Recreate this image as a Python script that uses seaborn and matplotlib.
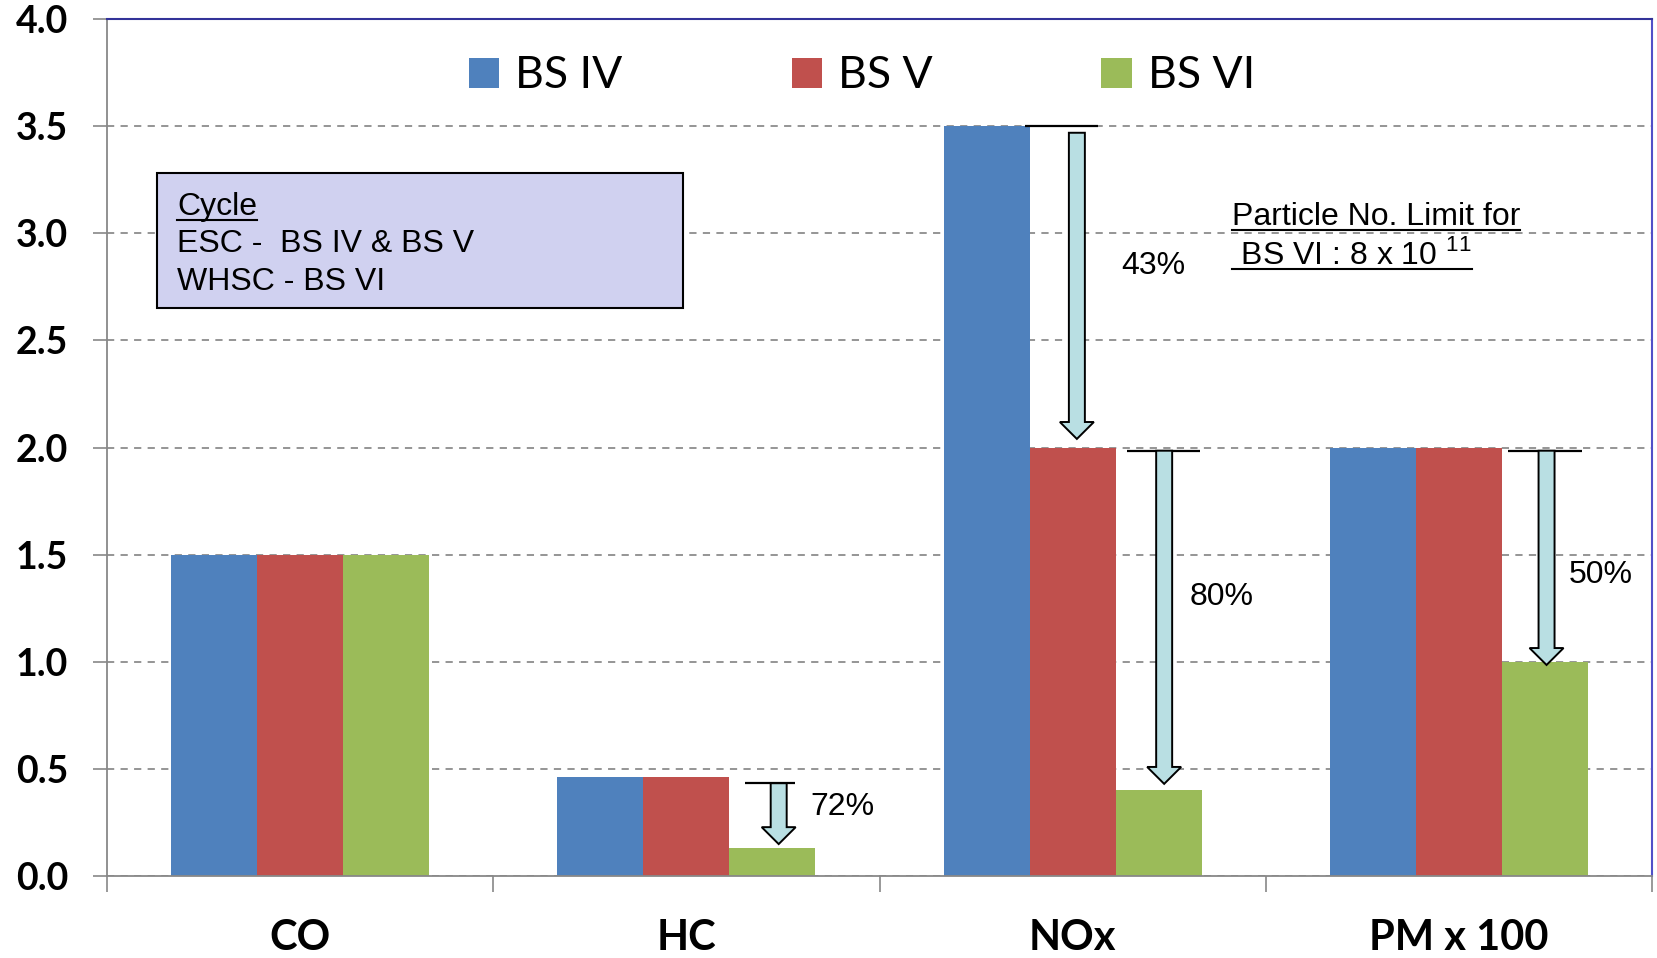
import numpy as np
import pandas as pd
import matplotlib
matplotlib.use("Agg")
import matplotlib.pyplot as plt
import seaborn as sns
from matplotlib.patches import Rectangle, FancyArrow
from matplotlib.lines import Line2D

# ---------------- data ----------------
categories = ["CO", "HC", "NOx", "PM x 100"]
norms = ["BS IV", "BS V", "BS VI"]
bs4 = [1.5, 0.46, 3.5, 2.0]
bs5 = [1.5, 0.46, 2.0, 2.0]
bs6 = [1.5, 0.13, 0.4, 1.0]
ytick_vals = [0.0, 0.5, 1.0, 1.5, 2.0, 2.5, 3.0, 3.5, 4.0]
ytick_labels = ["0.0", "0.5", "1.0", "1.5", "2.0", "2.5", "3.0", "3.5", "4.0"]
cycle_lines = ["Cycle", "ESC -  BS IV & BS V", "WHSC - BS VI"]
particle_lines = ["Particle No. Limit for", r" BS VI : 8 x 10 $^{\mathrm{11}}$"]
# reductions shown: (category index, from norm index, to norm index)
reductions = [(2, 0, 1), (2, 1, 2), (3, 1, 2), (1, 1, 2)]

colors = ["#4f81bd", "#c0504d", "#9bbb59"]

plt.rcParams["mathtext.fontset"] = "custom"
plt.rcParams["mathtext.rm"] = "Liberation Sans"

W, H = 1657, 958
fig = plt.figure(figsize=(W / 100, H / 100), dpi=100)
ax = fig.add_axes([107 / W, 1 - 876 / H, 1545 / W, 857 / H])

vals = {"BS IV": bs4, "BS V": bs5, "BS VI": bs6}
rows = []
for n in norms:
    for c, v in zip(categories, vals[n]):
        rows.append({"Pollutant": c, "Norm": n, "Value": v})
df = pd.DataFrame(rows)

sns.barplot(data=df, x="Pollutant", y="Value", hue="Norm", hue_order=norms,
            order=categories, palette=colors, width=0.668, saturation=1,
            linewidth=0, ax=ax, legend=True, errorbar=None)

ax.set_xlim(-0.5, 3.5)
ax.set_ylim(0, 4)
ax.set_xlabel("")
ax.set_ylabel("")

# grid
ax.set_axisbelow(True)
ax.yaxis.grid(True, ls=(0, (4, 3.5)), color="#8c8c8c", lw=1.3)
ax.xaxis.grid(False)

# ticks
ax.set_yticks(ytick_vals)
ax.set_yticklabels(ytick_labels, fontfamily="Lato", fontweight="bold", fontsize=27)
ax.tick_params(axis="y", direction="out", length=10, width=1.2, color="#888888", pad=18)
ax.set_xticks(range(len(categories)))
ax.set_xticklabels(categories, fontfamily="Lato", fontweight="bold", fontsize=30)
ax.tick_params(axis="x", which="major", length=0, pad=31)
ax.set_xticks(np.arange(-0.5, len(categories), 1.0), minor=True)
ax.tick_params(axis="x", which="minor", direction="out", length=11.5, width=1.2, color="#888888")

for s in ["left", "bottom"]:
    ax.spines[s].set_color("#888888")
    ax.spines[s].set_linewidth(1.3)
ax.spines["top"].set_color("#333399")
ax.spines["top"].set_linewidth(1.5)
ax.spines["right"].set_color("#5050c8")
ax.spines["right"].set_linewidth(1.5)

# legend
handles, labels = ax.get_legend_handles_labels()
if ax.get_legend() is not None:
    ax.get_legend().remove()
fig.legend(handles, labels, loc="center", bbox_to_anchor=(862 / W, 1 - 76 / H), ncol=3,
           frameon=False, prop=dict(family="Lato", size=32), handlelength=0.68,
           handleheight=0.68, handletextpad=0.36, columnspacing=3.8, borderpad=0,
           borderaxespad=0)

# reduction arrows (annotation geometry)
arrow_geo = [
    # x centre, ref line y, line x0, line x1, arrow top, arrow tip, label x, label y
    (2.011, 3.500, 1.877, 2.066, 3.469, 2.040, 2.125, 2.81),
    (2.237, 1.985, 2.141, 2.330, 1.985, 0.430, 2.304, 1.267),
    (3.227, 1.985, 3.127, 3.319, 1.985, 0.985, 3.284, 1.369),
    (1.239, 0.433, 1.152, 1.281, 0.433, 0.149, 1.320, 0.285),
]
series = [bs4, bs5, bs6]
for (ci, a, b), (xc, ly, lx0, lx1, top, tip, tx, ty) in zip(reductions, arrow_geo):
    va_, vb_ = series[a][ci], series[b][ci]
    pct = int(round((va_ - vb_) / va_ * 100))
    ax.hlines(ly, lx0, lx1, color="black", lw=1.6, zorder=5)
    ax.add_patch(FancyArrow(xc, top, 0, tip - top, width=0.0414, head_width=0.088,
                            head_length=0.079, length_includes_head=True,
                            fc="#b9dfe3", ec="black", lw=1.4, zorder=6))
    ax.text(tx, ty, f"{pct}%", family="Liberation Sans", fontsize=23, va="baseline",
            ha="left", zorder=7)

# cycle box
fig.add_artist(Rectangle((157 / W, 1 - 308 / H), (683 - 157) / W, (308 - 173) / H,
                         transform=fig.transFigure, fc="#d0d1f0", ec="black", lw=1.5,
                         zorder=2))
cycle_texts = []
for txt, by in zip(cycle_lines, [215, 252, 290]):
    t = fig.text(177 / W, 1 - by / H, txt, family="Liberation Sans", fontsize=23,
                 va="baseline", ha="left", zorder=4)
    cycle_texts.append((t, by))

part_texts = []
for txt, by in zip(particle_lines, [225, 264]):
    t = fig.text(1232 / W, 1 - by / H, txt, family="Liberation Sans", fontsize=23,
                 va="baseline", ha="left", zorder=4)
    part_texts.append((t, by))

# underlines
fig.canvas.draw()
r = fig.canvas.get_renderer()
def underline(t, by, x_start_px=None):
    bb = t.get_window_extent(r)
    x0 = bb.x0 if x_start_px is None else x_start_px
    y = H - (by + 4.5)
    fig.add_artist(Line2D([x0 / W, bb.x1 / W], [y / H, y / H], transform=fig.transFigure,
                          color="black", lw=1.5, zorder=5))

underline(cycle_texts[0][0], cycle_texts[0][1])
for t, by in part_texts:
    underline(t, by, x_start_px=1232)

fig.savefig("out.png", dpi=100)
